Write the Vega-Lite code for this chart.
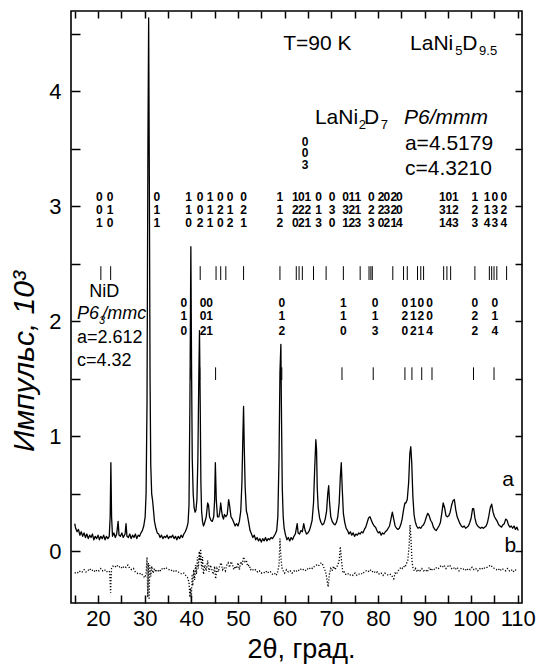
{
"$schema": "https://vega.github.io/schema/vega-lite/v6.json",
"width": 451, "height": 592,
"autosize": "none",
"padding": {"left": 71, "top": 11, "right": 15, "bottom": 64},
"config": {"font": "Liberation Sans", "view": {"stroke": "black", "strokeWidth": 1.6},
 "axis": {"domain": false, "grid": false, "tickColor": "black", "tickWidth": 1.5, "labelColor": "black", "titleColor": "black", "labelFont": "Liberation Sans", "titleFont": "Liberation Sans", "titleFontWeight": "normal", "zindex": 1}},
"datasets": {
"a": [
{"x":15.0,"y":0.24},{"x":15.2,"y":0.20},{"x":15.5,"y":0.17},{"x":15.8,"y":0.19},{"x":16.1,"y":0.14},{"x":16.4,"y":0.17},{"x":16.7,"y":0.13},{"x":17.0,"y":0.16},{"x":17.3,"y":0.12},{"x":17.6,"y":0.15},{"x":17.9,"y":0.11},{"x":18.2,"y":0.14},{"x":18.5,"y":0.12},{"x":18.8,"y":0.15},{"x":19.1,"y":0.10},{"x":19.4,"y":0.13},{"x":19.7,"y":0.11},{"x":20.0,"y":0.14},{"x":20.3,"y":0.10},{"x":20.6,"y":0.13},{"x":20.9,"y":0.11},{"x":21.2,"y":0.14},{"x":21.5,"y":0.10},{"x":21.8,"y":0.13},{"x":22.1,"y":0.11},{"x":22.4,"y":0.13},{"x":22.6,"y":0.30},{"x":22.75,"y":0.77},{"x":22.9,"y":0.30},{"x":23.1,"y":0.13},{"x":23.4,"y":0.16},{"x":23.7,"y":0.12},{"x":24.0,"y":0.15},{"x":24.3,"y":0.26},{"x":24.5,"y":0.14},{"x":24.8,"y":0.13},{"x":25.1,"y":0.16},{"x":25.4,"y":0.12},{"x":25.8,"y":0.15},{"x":26.0,"y":0.24},{"x":26.2,"y":0.13},{"x":26.5,"y":0.12},{"x":26.8,"y":0.15},{"x":27.1,"y":0.11},{"x":27.4,"y":0.14},{"x":27.7,"y":0.12},{"x":28.0,"y":0.15},{"x":28.3,"y":0.11},{"x":28.6,"y":0.14},{"x":28.9,"y":0.13},{"x":29.2,"y":0.16},{"x":29.5,"y":0.18},{"x":29.8,"y":0.22},{"x":30.1,"y":0.30},{"x":30.3,"y":0.50},{"x":30.5,"y":1.3},{"x":30.7,"y":3.6},{"x":30.85,"y":4.64},{"x":31.0,"y":3.2},{"x":31.15,"y":1.5},{"x":31.3,"y":0.75},{"x":31.5,"y":0.50},{"x":31.7,"y":0.44},{"x":31.9,"y":0.35},{"x":32.1,"y":0.26},{"x":32.4,"y":0.20},{"x":32.7,"y":0.16},{"x":33.0,"y":0.15},{"x":33.3,"y":0.12},{"x":33.6,"y":0.14},{"x":33.9,"y":0.11},{"x":34.2,"y":0.13},{"x":34.5,"y":0.12},{"x":34.8,"y":0.14},{"x":35.1,"y":0.11},{"x":35.4,"y":0.13},{"x":35.7,"y":0.12},{"x":36.0,"y":0.14},{"x":36.3,"y":0.11},{"x":36.6,"y":0.13},{"x":36.9,"y":0.10},{"x":37.2,"y":0.13},{"x":37.5,"y":0.11},{"x":37.8,"y":0.14},{"x":38.1,"y":0.12},{"x":38.4,"y":0.15},{"x":38.7,"y":0.17},{"x":39.0,"y":0.20},{"x":39.3,"y":0.25},{"x":39.5,"y":0.40},{"x":39.7,"y":1.3},{"x":39.9,"y":2.65},{"x":40.05,"y":1.6},{"x":40.2,"y":0.8},{"x":40.4,"y":0.50},{"x":40.6,"y":0.38},{"x":40.8,"y":0.34},{"x":41.0,"y":0.36},{"x":41.2,"y":0.45},{"x":41.4,"y":0.8},{"x":41.6,"y":1.5},{"x":41.75,"y":1.92},{"x":41.9,"y":1.3},{"x":42.05,"y":0.6},{"x":42.2,"y":0.35},{"x":42.4,"y":0.26},{"x":42.6,"y":0.22},{"x":42.8,"y":0.24},{"x":43.0,"y":0.27},{"x":43.2,"y":0.30},{"x":43.5,"y":0.42},{"x":43.7,"y":0.40},{"x":43.9,"y":0.30},{"x":44.2,"y":0.27},{"x":44.5,"y":0.26},{"x":44.8,"y":0.30},{"x":45.0,"y":0.45},{"x":45.15,"y":0.77},{"x":45.35,"y":0.45},{"x":45.6,"y":0.30},{"x":45.9,"y":0.30},{"x":46.1,"y":0.34},{"x":46.3,"y":0.42},{"x":46.5,"y":0.35},{"x":46.7,"y":0.30},{"x":46.9,"y":0.28},{"x":47.1,"y":0.32},{"x":47.4,"y":0.30},{"x":47.7,"y":0.32},{"x":48.0,"y":0.45},{"x":48.2,"y":0.40},{"x":48.5,"y":0.30},{"x":48.8,"y":0.28},{"x":49.1,"y":0.25},{"x":49.4,"y":0.22},{"x":49.7,"y":0.24},{"x":50.0,"y":0.22},{"x":50.3,"y":0.26},{"x":50.6,"y":0.35},{"x":50.85,"y":0.6},{"x":51.05,"y":1.0},{"x":51.2,"y":1.26},{"x":51.35,"y":0.9},{"x":51.55,"y":0.55},{"x":51.8,"y":0.35},{"x":52.0,"y":0.32},{"x":52.3,"y":0.25},{"x":52.6,"y":0.18},{"x":52.9,"y":0.15},{"x":53.2,"y":0.12},{"x":53.5,"y":0.14},{"x":53.8,"y":0.10},{"x":54.1,"y":0.12},{"x":54.4,"y":0.09},{"x":54.7,"y":0.11},{"x":55.0,"y":0.08},{"x":55.3,"y":0.11},{"x":55.6,"y":0.09},{"x":55.9,"y":0.12},{"x":56.2,"y":0.09},{"x":56.5,"y":0.11},{"x":56.8,"y":0.10},{"x":57.1,"y":0.12},{"x":57.4,"y":0.11},{"x":57.7,"y":0.13},{"x":58.0,"y":0.15},{"x":58.3,"y":0.18},{"x":58.55,"y":0.30},{"x":58.8,"y":0.8},{"x":59.0,"y":1.55},{"x":59.2,"y":1.8},{"x":59.35,"y":1.1},{"x":59.5,"y":0.55},{"x":59.7,"y":0.30},{"x":59.9,"y":0.20},{"x":60.2,"y":0.14},{"x":60.5,"y":0.10},{"x":60.8,"y":0.12},{"x":61.1,"y":0.09},{"x":61.4,"y":0.12},{"x":61.7,"y":0.10},{"x":62.0,"y":0.13},{"x":62.3,"y":0.15},{"x":62.7,"y":0.24},{"x":62.9,"y":0.16},{"x":63.2,"y":0.15},{"x":63.5,"y":0.18},{"x":63.8,"y":0.17},{"x":64.1,"y":0.24},{"x":64.4,"y":0.18},{"x":64.7,"y":0.15},{"x":65.0,"y":0.16},{"x":65.3,"y":0.18},{"x":65.6,"y":0.22},{"x":65.9,"y":0.27},{"x":66.2,"y":0.42},{"x":66.45,"y":0.72},{"x":66.7,"y":0.97},{"x":66.85,"y":0.88},{"x":67.0,"y":0.55},{"x":67.2,"y":0.38},{"x":67.5,"y":0.29},{"x":67.8,"y":0.25},{"x":68.1,"y":0.23},{"x":68.4,"y":0.24},{"x":68.7,"y":0.28},{"x":69.0,"y":0.35},{"x":69.25,"y":0.50},{"x":69.45,"y":0.57},{"x":69.65,"y":0.42},{"x":69.9,"y":0.30},{"x":70.2,"y":0.26},{"x":70.5,"y":0.24},{"x":70.8,"y":0.23},{"x":71.1,"y":0.25},{"x":71.4,"y":0.30},{"x":71.7,"y":0.42},{"x":71.95,"y":0.65},{"x":72.15,"y":0.77},{"x":72.35,"y":0.55},{"x":72.6,"y":0.33},{"x":72.9,"y":0.25},{"x":73.2,"y":0.20},{"x":73.5,"y":0.18},{"x":73.8,"y":0.15},{"x":74.1,"y":0.17},{"x":74.4,"y":0.14},{"x":74.7,"y":0.16},{"x":75.0,"y":0.13},{"x":75.3,"y":0.15},{"x":75.6,"y":0.14},{"x":75.9,"y":0.16},{"x":76.2,"y":0.15},{"x":76.5,"y":0.17},{"x":76.8,"y":0.16},{"x":77.1,"y":0.19},{"x":77.4,"y":0.21},{"x":77.7,"y":0.25},{"x":78.0,"y":0.29},{"x":78.3,"y":0.30},{"x":78.6,"y":0.27},{"x":78.9,"y":0.24},{"x":79.2,"y":0.22},{"x":79.5,"y":0.21},{"x":79.8,"y":0.18},{"x":80.1,"y":0.16},{"x":80.4,"y":0.17},{"x":80.7,"y":0.14},{"x":81.0,"y":0.16},{"x":81.3,"y":0.15},{"x":81.6,"y":0.17},{"x":81.9,"y":0.18},{"x":82.2,"y":0.20},{"x":82.5,"y":0.22},{"x":82.8,"y":0.28},{"x":83.1,"y":0.34},{"x":83.4,"y":0.28},{"x":83.7,"y":0.22},{"x":84.0,"y":0.20},{"x":84.3,"y":0.19},{"x":84.6,"y":0.20},{"x":84.9,"y":0.23},{"x":85.2,"y":0.28},{"x":85.5,"y":0.36},{"x":85.8,"y":0.42},{"x":86.0,"y":0.42},{"x":86.3,"y":0.45},{"x":86.6,"y":0.60},{"x":86.85,"y":0.85},{"x":87.05,"y":0.91},{"x":87.25,"y":0.78},{"x":87.5,"y":0.48},{"x":87.75,"y":0.32},{"x":88.0,"y":0.26},{"x":88.3,"y":0.22},{"x":88.6,"y":0.20},{"x":88.9,"y":0.21},{"x":89.2,"y":0.20},{"x":89.5,"y":0.22},{"x":89.8,"y":0.23},{"x":90.1,"y":0.26},{"x":90.4,"y":0.30},{"x":90.7,"y":0.33},{"x":91.0,"y":0.31},{"x":91.3,"y":0.27},{"x":91.6,"y":0.25},{"x":91.9,"y":0.21},{"x":92.2,"y":0.19},{"x":92.5,"y":0.18},{"x":92.8,"y":0.20},{"x":93.1,"y":0.22},{"x":93.4,"y":0.25},{"x":93.7,"y":0.33},{"x":94.0,"y":0.42},{"x":94.3,"y":0.38},{"x":94.6,"y":0.31},{"x":94.9,"y":0.30},{"x":95.2,"y":0.31},{"x":95.5,"y":0.34},{"x":95.8,"y":0.40},{"x":96.1,"y":0.44},{"x":96.4,"y":0.45},{"x":96.7,"y":0.36},{"x":97.0,"y":0.30},{"x":97.3,"y":0.27},{"x":97.6,"y":0.24},{"x":97.9,"y":0.22},{"x":98.2,"y":0.21},{"x":98.5,"y":0.22},{"x":98.8,"y":0.20},{"x":99.1,"y":0.21},{"x":99.4,"y":0.22},{"x":99.7,"y":0.25},{"x":100.0,"y":0.29},{"x":100.3,"y":0.37},{"x":100.55,"y":0.37},{"x":100.8,"y":0.29},{"x":101.1,"y":0.24},{"x":101.4,"y":0.22},{"x":101.7,"y":0.21},{"x":102.0,"y":0.20},{"x":102.3,"y":0.21},{"x":102.6,"y":0.20},{"x":102.9,"y":0.21},{"x":103.2,"y":0.22},{"x":103.5,"y":0.25},{"x":103.8,"y":0.31},{"x":104.1,"y":0.38},{"x":104.4,"y":0.41},{"x":104.7,"y":0.34},{"x":105.0,"y":0.30},{"x":105.3,"y":0.28},{"x":105.6,"y":0.26},{"x":105.9,"y":0.23},{"x":106.2,"y":0.22},{"x":106.5,"y":0.21},{"x":106.8,"y":0.23},{"x":107.1,"y":0.24},{"x":107.4,"y":0.28},{"x":107.7,"y":0.27},{"x":108.0,"y":0.23},{"x":108.3,"y":0.21},{"x":108.6,"y":0.22},{"x":108.9,"y":0.20},{"x":109.2,"y":0.22},{"x":109.5,"y":0.19},{"x":109.8,"y":0.21},{"x":110.1,"y":0.18}
],
"b": [
{"x":15.0,"y":-0.19},{"x":15.4,"y":-0.18},{"x":15.8,"y":-0.19},{"x":16.2,"y":-0.17},{"x":16.6,"y":-0.18},{"x":17.0,"y":-0.16},{"x":17.4,"y":-0.18},{"x":17.8,"y":-0.17},{"x":18.2,"y":-0.15},{"x":18.6,"y":-0.17},{"x":19.0,"y":-0.16},{"x":19.4,"y":-0.18},{"x":19.8,"y":-0.16},{"x":20.2,"y":-0.17},{"x":20.6,"y":-0.15},{"x":21.0,"y":-0.17},{"x":21.4,"y":-0.16},{"x":21.8,"y":-0.18},{"x":22.2,"y":-0.17},{"x":22.5,"y":-0.18},{"x":22.7,"y":-0.36},{"x":22.9,"y":-0.15},{"x":23.2,"y":-0.13},{"x":23.6,"y":-0.14},{"x":24.0,"y":-0.12},{"x":24.4,"y":-0.14},{"x":24.8,"y":-0.13},{"x":25.2,"y":-0.15},{"x":25.6,"y":-0.13},{"x":26.0,"y":-0.14},{"x":26.4,"y":-0.12},{"x":26.8,"y":-0.15},{"x":27.2,"y":-0.16},{"x":27.6,"y":-0.15},{"x":28.0,"y":-0.18},{"x":28.4,"y":-0.19},{"x":28.8,"y":-0.20},{"x":29.2,"y":-0.19},{"x":29.6,"y":-0.21},{"x":30.0,"y":-0.23},{"x":30.3,"y":-0.20},{"x":30.5,"y":-0.05},{"x":30.65,"y":-0.40},{"x":30.8,"y":-0.10},{"x":30.95,"y":-0.42},{"x":31.1,"y":-0.12},{"x":31.3,"y":-0.22},{"x":31.5,"y":-0.13},{"x":31.8,"y":-0.19},{"x":32.1,"y":-0.15},{"x":32.4,"y":-0.18},{"x":32.8,"y":-0.16},{"x":33.2,"y":-0.18},{"x":33.6,"y":-0.15},{"x":34.0,"y":-0.16},{"x":34.4,"y":-0.14},{"x":34.8,"y":-0.15},{"x":35.2,"y":-0.16},{"x":35.6,"y":-0.17},{"x":36.0,"y":-0.16},{"x":36.4,"y":-0.18},{"x":36.8,"y":-0.17},{"x":37.2,"y":-0.18},{"x":37.6,"y":-0.19},{"x":38.0,"y":-0.20},{"x":38.4,"y":-0.19},{"x":38.8,"y":-0.21},{"x":39.2,"y":-0.23},{"x":39.5,"y":-0.27},{"x":39.7,"y":-0.40},{"x":39.85,"y":-0.32},{"x":40.0,"y":-0.44},{"x":40.15,"y":-0.20},{"x":40.3,"y":-0.30},{"x":40.5,"y":-0.16},{"x":40.7,"y":-0.25},{"x":40.9,"y":-0.12},{"x":41.1,"y":-0.20},{"x":41.3,"y":-0.05},{"x":41.5,"y":-0.15},{"x":41.7,"y":0.00},{"x":41.85,"y":-0.08},{"x":42.0,"y":0.02},{"x":42.2,"y":-0.15},{"x":42.4,"y":-0.05},{"x":42.6,"y":-0.20},{"x":42.9,"y":-0.12},{"x":43.2,"y":-0.17},{"x":43.5,"y":-0.08},{"x":43.8,"y":-0.18},{"x":44.1,"y":-0.12},{"x":44.4,"y":-0.16},{"x":44.7,"y":-0.20},{"x":45.0,"y":-0.13},{"x":45.2,"y":-0.24},{"x":45.5,"y":-0.15},{"x":45.8,"y":-0.18},{"x":46.1,"y":-0.12},{"x":46.4,"y":-0.10},{"x":46.7,"y":-0.16},{"x":47.0,"y":-0.14},{"x":47.3,"y":-0.17},{"x":47.6,"y":-0.12},{"x":47.9,"y":-0.10},{"x":48.2,"y":-0.14},{"x":48.5,"y":-0.09},{"x":48.8,"y":-0.11},{"x":49.1,"y":-0.16},{"x":49.4,"y":-0.13},{"x":49.7,"y":-0.15},{"x":50.0,"y":-0.10},{"x":50.3,"y":-0.16},{"x":50.6,"y":-0.09},{"x":50.9,"y":-0.12},{"x":51.2,"y":-0.05},{"x":51.5,"y":-0.09},{"x":51.8,"y":-0.08},{"x":52.1,"y":-0.13},{"x":52.4,"y":-0.12},{"x":52.7,"y":-0.16},{"x":53.0,"y":-0.15},{"x":53.4,"y":-0.17},{"x":53.8,"y":-0.16},{"x":54.2,"y":-0.18},{"x":54.6,"y":-0.17},{"x":55.0,"y":-0.19},{"x":55.4,"y":-0.18},{"x":55.8,"y":-0.19},{"x":56.2,"y":-0.17},{"x":56.6,"y":-0.19},{"x":57.0,"y":-0.18},{"x":57.4,"y":-0.20},{"x":57.8,"y":-0.19},{"x":58.2,"y":-0.21},{"x":58.5,"y":-0.18},{"x":58.8,"y":-0.12},{"x":59.0,"y":0.11},{"x":59.2,"y":-0.05},{"x":59.4,"y":-0.14},{"x":59.7,"y":-0.17},{"x":60.0,"y":-0.19},{"x":60.4,"y":-0.16},{"x":60.8,"y":-0.18},{"x":61.2,"y":-0.17},{"x":61.6,"y":-0.19},{"x":62.0,"y":-0.17},{"x":62.4,"y":-0.18},{"x":62.8,"y":-0.16},{"x":63.2,"y":-0.17},{"x":63.6,"y":-0.15},{"x":64.0,"y":-0.16},{"x":64.4,"y":-0.17},{"x":64.8,"y":-0.15},{"x":65.2,"y":-0.16},{"x":65.6,"y":-0.14},{"x":66.0,"y":-0.15},{"x":66.4,"y":-0.13},{"x":66.8,"y":-0.12},{"x":67.2,"y":-0.13},{"x":67.6,"y":-0.11},{"x":67.9,"y":-0.10},{"x":68.2,"y":-0.12},{"x":68.5,"y":-0.15},{"x":68.8,"y":-0.18},{"x":69.1,"y":-0.25},{"x":69.35,"y":-0.31},{"x":69.6,"y":-0.20},{"x":69.9,"y":-0.15},{"x":70.2,"y":-0.17},{"x":70.5,"y":-0.13},{"x":70.8,"y":-0.16},{"x":71.1,"y":-0.14},{"x":71.4,"y":-0.12},{"x":71.7,"y":-0.08},{"x":71.95,"y":0.04},{"x":72.2,"y":-0.08},{"x":72.5,"y":-0.19},{"x":72.8,"y":-0.18},{"x":73.1,"y":-0.20},{"x":73.5,"y":-0.19},{"x":73.9,"y":-0.21},{"x":74.3,"y":-0.20},{"x":74.7,"y":-0.21},{"x":75.1,"y":-0.19},{"x":75.5,"y":-0.21},{"x":75.9,"y":-0.20},{"x":76.3,"y":-0.19},{"x":76.7,"y":-0.20},{"x":77.1,"y":-0.18},{"x":77.5,"y":-0.17},{"x":77.9,"y":-0.18},{"x":78.3,"y":-0.16},{"x":78.7,"y":-0.18},{"x":79.1,"y":-0.17},{"x":79.5,"y":-0.19},{"x":79.9,"y":-0.18},{"x":80.3,"y":-0.20},{"x":80.7,"y":-0.19},{"x":81.1,"y":-0.21},{"x":81.5,"y":-0.19},{"x":81.9,"y":-0.20},{"x":82.3,"y":-0.21},{"x":82.7,"y":-0.20},{"x":83.1,"y":-0.22},{"x":83.4,"y":-0.24},{"x":83.7,"y":-0.19},{"x":84.0,"y":-0.20},{"x":84.3,"y":-0.17},{"x":84.6,"y":-0.16},{"x":84.9,"y":-0.14},{"x":85.2,"y":-0.15},{"x":85.5,"y":-0.13},{"x":85.8,"y":-0.14},{"x":86.1,"y":-0.11},{"x":86.4,"y":-0.08},{"x":86.7,"y":0.05},{"x":86.9,"y":0.23},{"x":87.1,"y":0.10},{"x":87.3,"y":-0.08},{"x":87.5,"y":-0.14},{"x":87.8,"y":-0.17},{"x":88.1,"y":-0.15},{"x":88.4,"y":-0.18},{"x":88.7,"y":-0.16},{"x":89.0,"y":-0.17},{"x":89.4,"y":-0.15},{"x":89.8,"y":-0.17},{"x":90.2,"y":-0.16},{"x":90.6,"y":-0.18},{"x":91.0,"y":-0.14},{"x":91.4,"y":-0.17},{"x":91.8,"y":-0.15},{"x":92.2,"y":-0.16},{"x":92.6,"y":-0.14},{"x":93.0,"y":-0.15},{"x":93.4,"y":-0.13},{"x":93.8,"y":-0.14},{"x":94.2,"y":-0.12},{"x":94.6,"y":-0.15},{"x":95.0,"y":-0.13},{"x":95.4,"y":-0.12},{"x":95.8,"y":-0.15},{"x":96.2,"y":-0.14},{"x":96.6,"y":-0.16},{"x":97.0,"y":-0.14},{"x":97.4,"y":-0.17},{"x":97.8,"y":-0.15},{"x":98.2,"y":-0.16},{"x":98.6,"y":-0.15},{"x":99.0,"y":-0.17},{"x":99.4,"y":-0.15},{"x":99.8,"y":-0.16},{"x":100.2,"y":-0.14},{"x":100.6,"y":-0.16},{"x":101.0,"y":-0.15},{"x":101.4,"y":-0.17},{"x":101.8,"y":-0.15},{"x":102.2,"y":-0.16},{"x":102.6,"y":-0.14},{"x":103.0,"y":-0.15},{"x":103.4,"y":-0.14},{"x":103.8,"y":-0.13},{"x":104.2,"y":-0.12},{"x":104.6,"y":-0.14},{"x":105.0,"y":-0.15},{"x":105.4,"y":-0.16},{"x":105.8,"y":-0.15},{"x":106.2,"y":-0.17},{"x":106.6,"y":-0.15},{"x":107.0,"y":-0.16},{"x":107.4,"y":-0.17},{"x":107.8,"y":-0.15},{"x":108.2,"y":-0.17},{"x":108.6,"y":-0.16},{"x":109.0,"y":-0.18},{"x":109.4,"y":-0.16},{"x":109.8,"y":-0.17}
],
"hklL": [
{"x":20.3,"h":"0","k":"0","l":"1"},{"x":22.6,"h":"0","k":"1","l":"0"},{"x":32.6,"h":"0","k":"1","l":"1"},{"x":39.4,"h":"1","k":"1","l":"0"},{"x":41.9,"h":"0","k":"0","l":"2"},{"x":44.0,"h":"1","k":"1","l":"1"},{"x":46.2,"h":"0","k":"2","l":"0"},{"x":48.3,"h":"0","k":"1","l":"2"},{"x":51.2,"h":"0","k":"2","l":"1"},{"x":59.0,"h":"1","k":"1","l":"2"},{"x":62.3,"h":"1","k":"2","l":"0"},{"x":63.6,"h":"0","k":"2","l":"2"},{"x":65.0,"h":"1","k":"2","l":"1"},{"x":67.3,"h":"0","k":"1","l":"3"},{"x":70.2,"h":"0","k":"3","l":"0"},{"x":73.1,"h":"0","k":"3","l":"1"},{"x":74.4,"h":"1","k":"2","l":"2"},{"x":75.7,"h":"1","k":"1","l":"3"},{"x":78.6,"h":"0","k":"2","l":"3"},{"x":80.7,"h":"2","k":"2","l":"0"},{"x":81.9,"h":"0","k":"3","l":"2"},{"x":83.4,"h":"2","k":"2","l":"1"},{"x":84.6,"h":"0","k":"0","l":"4"},{"x":93.8,"h":"1","k":"3","l":"1"},{"x":95.2,"h":"0","k":"1","l":"4"},{"x":96.6,"h":"1","k":"2","l":"3"},{"x":100.8,"h":"1","k":"2","l":"3"},{"x":103.4,"h":"1","k":"1","l":"4"},{"x":105.1,"h":"0","k":"3","l":"3"},{"x":107.0,"h":"0","k":"2","l":"4"}
],
"hklN": [
{"x":38.4,"h":"0","k":"1","l":"0"},{"x":42.5,"h":"0","k":"0","l":"2"},{"x":43.9,"h":"0","k":"1","l":"1"},{"x":59.4,"h":"0","k":"1","l":"2"},{"x":72.6,"h":"1","k":"1","l":"0"},{"x":79.4,"h":"0","k":"1","l":"3"},{"x":85.8,"h":"0","k":"2","l":"0"},{"x":87.6,"h":"1","k":"1","l":"2"},{"x":89.2,"h":"0","k":"2","l":"1"},{"x":91.1,"h":"0","k":"0","l":"4"},{"x":100.8,"h":"0","k":"2","l":"2"},{"x":105.1,"h":"0","k":"1","l":"4"}
],
"hkl2": [{"x":64.4,"h":"0","k":"0","l":"3"}],
"barsL": [{"x":20.6},{"x":22.7},{"x":41.9},{"x":45.3},{"x":46.3},{"x":47.4},{"x":51.2},{"x":59.0},{"x":62.5},{"x":63.1},{"x":63.8},{"x":66.2},{"x":68.9},{"x":72.6},{"x":76.2},{"x":78.1},{"x":78.5},{"x":78.8},{"x":83.2},{"x":85.5},{"x":86.3},{"x":88.5},{"x":89.2},{"x":89.8},{"x":94.1},{"x":94.8},{"x":95.6},{"x":100.8},{"x":103.9},{"x":104.4},{"x":104.9},{"x":105.5},{"x":107.6}],
"barsN": [{"x":39.9},{"x":41.8},{"x":45.2},{"x":59.4},{"x":72.3},{"x":79.0},{"x":85.8},{"x":87.3},{"x":89.4},{"x":91.6},{"x":100.5},{"x":104.9}],
"txt": [{"x":59.7,"y":4.365,"t":"T=90 K"},{"x":86.9,"y":4.365,"t":"LaNi"},{"x":98.1,"y":4.365,"t":"D"},{"x":66.5,"y":3.72,"t":"LaNi"},{"x":77.0,"y":3.72,"t":"D"},{"x":85.8,"y":3.49,"t":"a=4.5179"},{"x":85.8,"y":3.27,"t":"c=4.3210"}],
"txtI": [{"x":85.6,"y":3.72,"t":"P6/mmm"}],
"txtS": [{"x":96.6,"y":4.32,"t":"5"},{"x":101.7,"y":4.32,"t":"9.5"},{"x":75.9,"y":3.675,"t":"2"},{"x":80.6,"y":3.675,"t":"7"}],
"nid": [{"x":18.1,"y":2.21,"t":"NiD"},{"x":15.5,"y":1.81,"t":"a=2.612"},{"x":15.5,"y":1.61,"t":"c=4.32"}],
"nidI": [{"x":15.5,"y":2.02,"t":"P6"},{"x":20.9,"y":2.02,"t":"/mmc"}],
"nidS": [{"x":20.2,"y":1.98,"t":"3"}],
"ab": [{"x":107.9,"y":0.57,"t":"a"},{"x":108.4,"y":-0.01,"t":"b"}]
},
"layer": [
{"data": {"name": "a"}, "mark": {"type": "line", "color": "black", "strokeWidth": 1.3, "strokeJoin": "round", "clip": true},
 "encoding": {
  "x": {"field": "x", "type": "quantitative", "scale": {"domain": [14.2, 110.9], "nice": false, "zero": false},
   "axis": {"orient": "bottom", "offset": -8, "values": [15,20,25,30,35,40,45,50,55,60,65,70,75,80,85,90,95,100,105,110], "labelExpr": "datum.value % 10 === 0 ? format(datum.value, 'd') : ''", "tickSize": 8, "labelFontSize": 22, "labelPadding": 5, "labelOverlap": false, "labelFlush": false, "labelBound": false, "title": "2θ, град.", "titleFontSize": 27, "titleX": 230, "titleY": 62, "titleBaseline": "alphabetic", "titleAlign": "center"}},
  "y": {"field": "y", "type": "quantitative", "scale": {"domain": [-0.45, 4.7], "nice": false, "zero": false},
   "axis": {"orient": "left", "offset": -9, "values": [0,0.5,1,1.5,2,2.5,3,3.5,4,4.5], "labelExpr": "datum.value % 1 === 0 ? format(datum.value, 'd') : ''", "tickSize": 9, "labelFontSize": 22, "labelPadding": 10, "labelOverlap": false, "labelFlush": false, "title": "Импульс, 10³", "titleFontSize": 30, "titleFontStyle": "italic", "titleAngle": -90, "titleX": -47, "titleY": 350, "titleBaseline": "alphabetic", "titleAlign": "center"}}
 }},
{"data": {"name": "b"}, "mark": {"type": "line", "color": "black", "strokeWidth": 1.3, "strokeDash": [1.2, 1.8], "clip": true},
 "encoding": {
  "x": {"field": "x", "type": "quantitative", "axis": {"orient": "top", "offset": -7, "values": [15,20,25,30,35,40,45,50,55,60,65,70,75,80,85,90,95,100,105,110], "labels": false, "tickSize": 7, "title": null}},
  "y": {"field": "y", "type": "quantitative", "axis": {"orient": "right", "offset": -7, "values": [0,0.5,1,1.5,2,2.5,3,3.5,4,4.5], "labels": false, "tickSize": 7, "title": null}}
 }},
{"data": {"name": "barsL"}, "mark": {"type": "rule", "color": "black", "strokeWidth": 1},
 "encoding": {"x": {"field": "x", "type": "quantitative", "axis": null}, "y": {"datum": 2.36, "axis": null}, "y2": {"datum": 2.48}}},
{"data": {"name": "barsN"}, "mark": {"type": "rule", "color": "black", "strokeWidth": 1},
 "encoding": {"x": {"field": "x", "type": "quantitative", "axis": null}, "y": {"datum": 1.49, "axis": null}, "y2": {"datum": 1.60}}},
{"data": {"name": "hklL"}, "mark": {"type": "text", "fontSize": 12, "fontWeight": "bold", "baseline": "middle", "color": "black"},
 "encoding": {"x": {"field": "x", "type": "quantitative", "axis": null}, "y": {"datum": 3.078, "axis": null}, "text": {"field": "h"}}},
{"data": {"name": "hklL"}, "mark": {"type": "text", "fontSize": 12, "fontWeight": "bold", "baseline": "middle", "color": "black"},
 "encoding": {"x": {"field": "x", "type": "quantitative", "axis": null}, "y": {"datum": 2.965, "axis": null}, "text": {"field": "k"}}},
{"data": {"name": "hklL"}, "mark": {"type": "text", "fontSize": 12, "fontWeight": "bold", "baseline": "middle", "color": "black"},
 "encoding": {"x": {"field": "x", "type": "quantitative", "axis": null}, "y": {"datum": 2.852, "axis": null}, "text": {"field": "l"}}},
{"data": {"name": "hklN"}, "mark": {"type": "text", "fontSize": 12, "fontWeight": "bold", "baseline": "middle", "color": "black"},
 "encoding": {"x": {"field": "x", "type": "quantitative", "axis": null}, "y": {"datum": 2.157, "axis": null}, "text": {"field": "h"}}},
{"data": {"name": "hklN"}, "mark": {"type": "text", "fontSize": 12, "fontWeight": "bold", "baseline": "middle", "color": "black"},
 "encoding": {"x": {"field": "x", "type": "quantitative", "axis": null}, "y": {"datum": 2.043, "axis": null}, "text": {"field": "k"}}},
{"data": {"name": "hklN"}, "mark": {"type": "text", "fontSize": 12, "fontWeight": "bold", "baseline": "middle", "color": "black"},
 "encoding": {"x": {"field": "x", "type": "quantitative", "axis": null}, "y": {"datum": 1.92, "axis": null}, "text": {"field": "l"}}},
{"data": {"name": "hkl2"}, "mark": {"type": "text", "fontSize": 12, "fontWeight": "bold", "baseline": "middle", "color": "black"},
 "encoding": {"x": {"field": "x", "type": "quantitative", "axis": null}, "y": {"datum": 3.561, "axis": null}, "text": {"field": "h"}}},
{"data": {"name": "hkl2"}, "mark": {"type": "text", "fontSize": 12, "fontWeight": "bold", "baseline": "middle", "color": "black"},
 "encoding": {"x": {"field": "x", "type": "quantitative", "axis": null}, "y": {"datum": 3.461, "axis": null}, "text": {"field": "k"}}},
{"data": {"name": "hkl2"}, "mark": {"type": "text", "fontSize": 12, "fontWeight": "bold", "baseline": "middle", "color": "black"},
 "encoding": {"x": {"field": "x", "type": "quantitative", "axis": null}, "y": {"datum": 3.361, "axis": null}, "text": {"field": "l"}}},
{"data": {"name": "txt"}, "mark": {"type": "text", "fontSize": 21, "align": "left", "baseline": "alphabetic", "color": "black"},
 "encoding": {"x": {"field": "x", "type": "quantitative", "axis": null}, "y": {"field": "y", "type": "quantitative", "axis": null}, "text": {"field": "t"}}},
{"data": {"name": "txtI"}, "mark": {"type": "text", "fontSize": 21, "fontStyle": "italic", "align": "left", "baseline": "alphabetic", "color": "black"},
 "encoding": {"x": {"field": "x", "type": "quantitative", "axis": null}, "y": {"field": "y", "type": "quantitative", "axis": null}, "text": {"field": "t"}}},
{"data": {"name": "txtS"}, "mark": {"type": "text", "fontSize": 13, "align": "left", "baseline": "alphabetic", "color": "black"},
 "encoding": {"x": {"field": "x", "type": "quantitative", "axis": null}, "y": {"field": "y", "type": "quantitative", "axis": null}, "text": {"field": "t"}}},
{"data": {"name": "nid"}, "mark": {"type": "text", "fontSize": 18, "align": "left", "baseline": "alphabetic", "color": "black"},
 "encoding": {"x": {"field": "x", "type": "quantitative", "axis": null}, "y": {"field": "y", "type": "quantitative", "axis": null}, "text": {"field": "t"}}},
{"data": {"name": "nidI"}, "mark": {"type": "text", "fontSize": 18, "fontStyle": "italic", "align": "left", "baseline": "alphabetic", "color": "black"},
 "encoding": {"x": {"field": "x", "type": "quantitative", "axis": null}, "y": {"field": "y", "type": "quantitative", "axis": null}, "text": {"field": "t"}}},
{"data": {"name": "nidS"}, "mark": {"type": "text", "fontSize": 11, "fontStyle": "italic", "align": "left", "baseline": "alphabetic", "color": "black"},
 "encoding": {"x": {"field": "x", "type": "quantitative", "axis": null}, "y": {"field": "y", "type": "quantitative", "axis": null}, "text": {"field": "t"}}},
{"data": {"name": "ab"}, "mark": {"type": "text", "fontSize": 21, "align": "center", "baseline": "alphabetic", "color": "black"},
 "encoding": {"x": {"field": "x", "type": "quantitative", "axis": null}, "y": {"field": "y", "type": "quantitative", "axis": null}, "text": {"field": "t"}}}
],
"resolve": {"axis": {"x": "independent", "y": "independent"}}
}
